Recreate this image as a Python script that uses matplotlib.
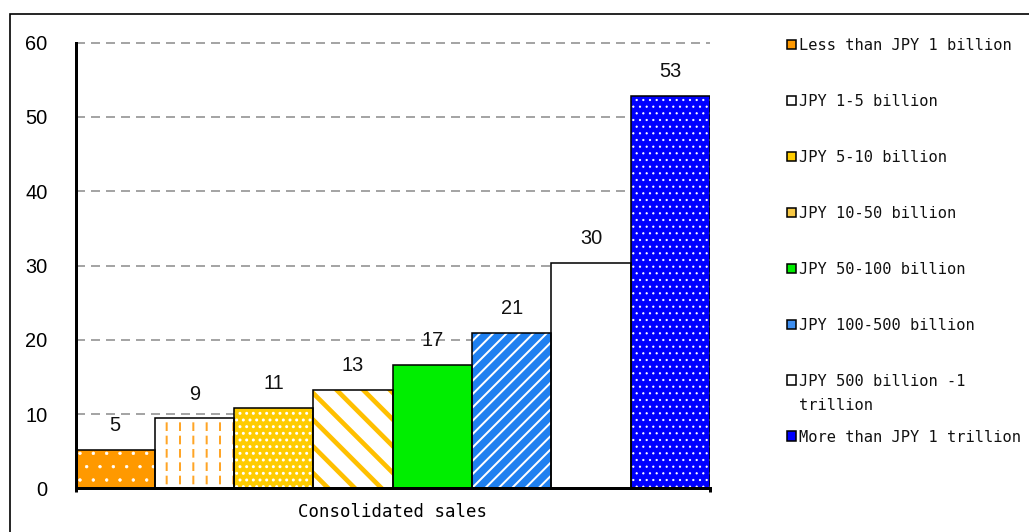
import matplotlib
matplotlib.use("Agg")
import matplotlib.pyplot as plt
from matplotlib.patches import Rectangle

# ---- data -------------------------------------------------------------
group_label = "Consolidated sales"
size_classes = [
    "Less than JPY 1 billion",
    "JPY 1-5 billion",
    "JPY 5-10 billion",
    "JPY 10-50 billion",
    "JPY 50-100 billion",
    "JPY 100-500 billion",
    "JPY 500 billion -1\ntrillion",
    "More than JPY 1 trillion",
]
shares = [5.2, 9.4, 10.8, 13.2, 16.6, 20.9, 30.4, 52.8]
y_ticks = [0, 10, 20, 30, 40, 50, 60]

# ---- fill styles: face colour, hatch colour, hatch, hatch width (pt) ----
styles = [
    dict(face="#FF9900", hcolor="white", hatch=".", hlw=0.6, key="#FF9900"),
    dict(face="white", hcolor="#FFA526", hatch="|", hlw=1.8,
         over=("white", "-", 4.2), key="white"),
    dict(face="#FFCC00", hcolor="white", hatch="..", hlw=1.5, key="#FFCC00"),
    dict(face="white", hcolor="#FFC000", hatch="\\", hlw=4.2, key="#F7C845"),
    dict(face="#00EE00", hcolor=None, hatch=None, hlw=1.0, key="#00EE00"),
    dict(face="#1F80F0", hcolor="white", hatch="//", hlw=1.8, key="#3D8EF0"),
    dict(face="white", hcolor=None, hatch=None, hlw=1.0, key="white"),
    dict(face="#0000FF", hcolor="white", hatch="..", hlw=0.8, key="#0000FF"),
]

W, H, DPI = 1029, 532, 80
fig = plt.figure(figsize=(W / DPI, H / DPI), dpi=DPI)


def fx(px):
    return px / W


def fy(py):
    return 1 - py / H


def set_hlw(artist, lw):
    if hasattr(artist, "set_hatch_linewidth"):
        artist.set_hatch_linewidth(lw)
    else:
        artist._hatch_linewidth = lw


def paint(target_bar, st):
    """Apply face/hatch styling to a freshly created patch."""
    target_bar.set_facecolor(st["face"])
    if st["hatch"]:
        target_bar.set_edgecolor(st["hcolor"])
        target_bar.set_hatch(st["hatch"])
        set_hlw(target_bar, st["hlw"])
    target_bar.set_linewidth(0)


ax = fig.add_axes([fx(75.5), fy(488.3), fx(710) - fx(75.5), fy(42.7) - fy(488.3)])

n = len(shares)
xs = list(range(n))
for i, (v, st) in enumerate(zip(shares, styles)):
    with plt.rc_context({"hatch.linewidth": st["hlw"]}):
        b = ax.bar(xs[i], v, width=1.0, zorder=2)[0]
        paint(b, st)
        if "over" in st:
            oc, oh, olw = st["over"]
            with plt.rc_context({"hatch.linewidth": olw}):
                ob = ax.bar(xs[i], v, width=1.0, fill=False, edgecolor=oc,
                            hatch=oh, linewidth=0, zorder=2.1)[0]
                set_hlw(ob, olw)
    ax.bar(xs[i], v, width=1.0, fill=False, edgecolor="black",
           linewidth=1.4, zorder=2.5)
    ax.annotate(f"{v:.0f}", (xs[i], v), xytext=(0, 17), textcoords="offset points",
                ha="center", va="baseline", fontsize=18,
                family="Liberation Sans", color="#111111", zorder=4)

ax.set_xlim(-0.5, n - 0.5)
ax.set_ylim(0, 60)
ax.set_yticks(y_ticks)
ax.set_yticklabels([str(t) for t in y_ticks], family="Liberation Sans", fontsize=18)
ax.tick_params(axis="y", length=0, pad=25)

ax.set_xticks([(n - 1) / 2])
ax.set_xticklabels([group_label], family="DejaVu Sans Mono", fontsize=15.6)
ax.tick_params(axis="x", which="major", length=0, pad=13)
ax.set_xticks([-0.5, n - 0.5], minor=True)
ax.tick_params(axis="x", which="minor", length=3.6, width=2.7, direction="out")

ax.yaxis.grid(True, color="#888888", linestyle=(0, (6, 4)), linewidth=1.35)
ax.set_axisbelow(True)
for gl in ax.get_ygridlines():
    gl.set_clip_on(False)

for side in ("top", "right"):
    ax.spines[side].set_visible(False)
for side in ("left", "bottom"):
    ax.spines[side].set_linewidth(2.7)
    ax.spines[side].set_zorder(3)

# ---- legend entries, one per size class --------------------------------
LINE_PX = 23
for i, (label, st) in enumerate(zip(size_classes, styles)):
    cy = 44 + 56 * i
    fig.add_artist(Rectangle((fx(787), fy(cy + 4.5)), fx(9), fy(cy - 4.5) - fy(cy + 4.5),
                             transform=fig.transFigure, facecolor=st["key"],
                             edgecolor="black", linewidth=1.4))
    for k, line in enumerate(label.split("\n")):
        fig.text(fx(799), fy(cy + 6.5 + LINE_PX * k), line, ha="left",
                 va="baseline", family="DejaVu Sans Mono", fontsize=13.9,
                 color="#111111")

# outer frame of the chart area
fig.add_artist(Rectangle((fx(9.5), -0.1), 1.2, fy(13.8) + 0.1,
                         transform=fig.transFigure, fill=False,
                         edgecolor="black", linewidth=1.5))

fig.savefig("out.png", dpi=DPI)
